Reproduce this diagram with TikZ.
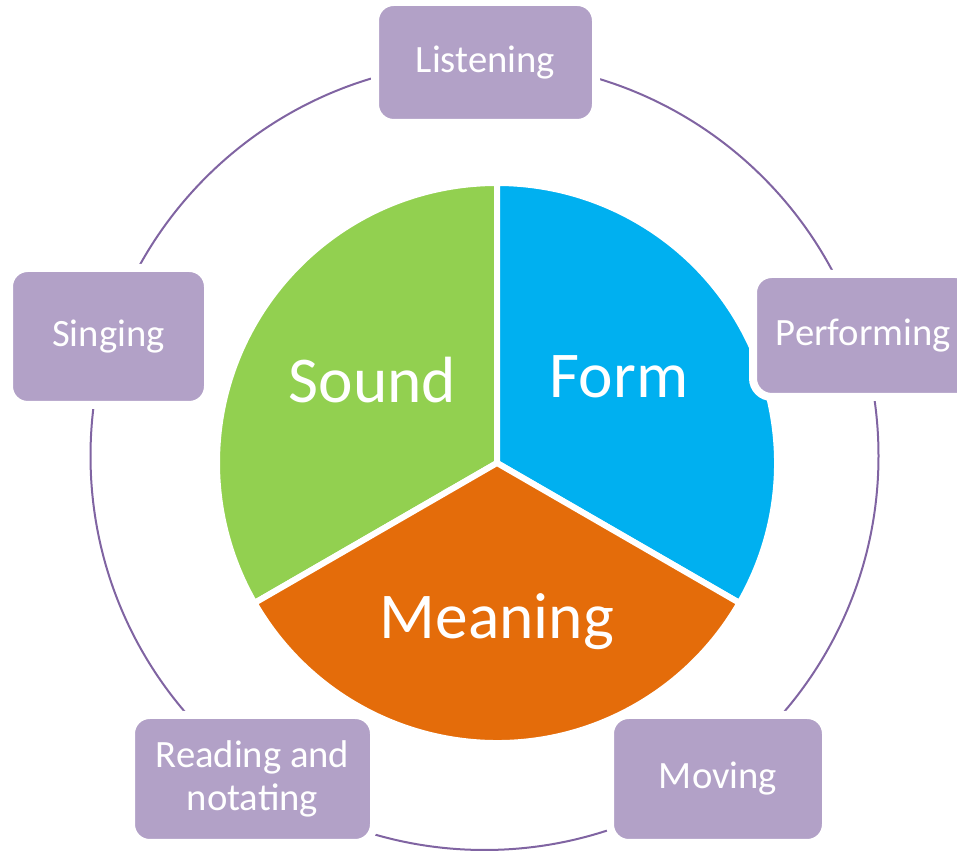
\documentclass[tikz,border=0pt]{standalone}
\usepackage{fontspec}
\setmainfont{Carlito}
\definecolor{boxpurple}{HTML}{B2A1C7}
\definecolor{ringpurple}{HTML}{8064A2}
\definecolor{soundgreen}{HTML}{92D050}
\definecolor{formblue}{HTML}{00B0F0}
\definecolor{meaningorange}{HTML}{E46C0A}

\begin{document}
\begin{tikzpicture}[x=0.75pt,y=0.75pt,
  skill/.style={rounded corners=14pt, fill=boxpurple, draw=white, line width=6pt,
    text=white, font=\fontsize{29}{32}\selectfont, align=center},
  wedge/.style={draw=white, line width=4.5pt, line join=miter},
  part/.style={text=white, font=\fontsize{49}{55}\selectfont, anchor=base, inner sep=0pt}]
\clip (0,0) rectangle (957,855);

% outer ring
\draw[ringpurple, line width=1.5pt] (484.5,399) circle[radius=394];

% the three parts
\coordinate (c) at (497,392);
\filldraw[wedge, fill=soundgreen] (c) -- ++(90:280) arc[start angle=90, end angle=210, radius=280] -- cycle;
\filldraw[wedge, fill=formblue] (c) -- ++(-30:280) arc[start angle=-30, end angle=90, radius=280] -- cycle;
\filldraw[wedge, fill=meaningorange] (c) -- ++(210:280) arc[start angle=210, end angle=330, radius=280] -- cycle;

\node[part] (sound) at (372.5,452) {Sound};
\node[part] (form) at (619,457) {Form};
\node[part] (meaning) at (497,216) {Meaning};

% activities
\node[skill, minimum width=165.75pt, minimum height=90.75pt] (listening) at (485.5,792.5) {Listening};
\node[skill, minimum width=165.75pt, minimum height=92.25pt] (performing) at (863.5,519.5) {Performing};
\node[skill, minimum width=162pt, minimum height=96pt] (moving) at (718,76) {Moving};
\node[skill, minimum width=182.25pt, minimum height=96pt] (reading) at (252.5,76) {Reading and\\notating};
\node[skill, minimum width=149.25pt, minimum height=102.75pt] (singing) at (108.5,518.5) {Singing};
\end{tikzpicture}
\end{document}
